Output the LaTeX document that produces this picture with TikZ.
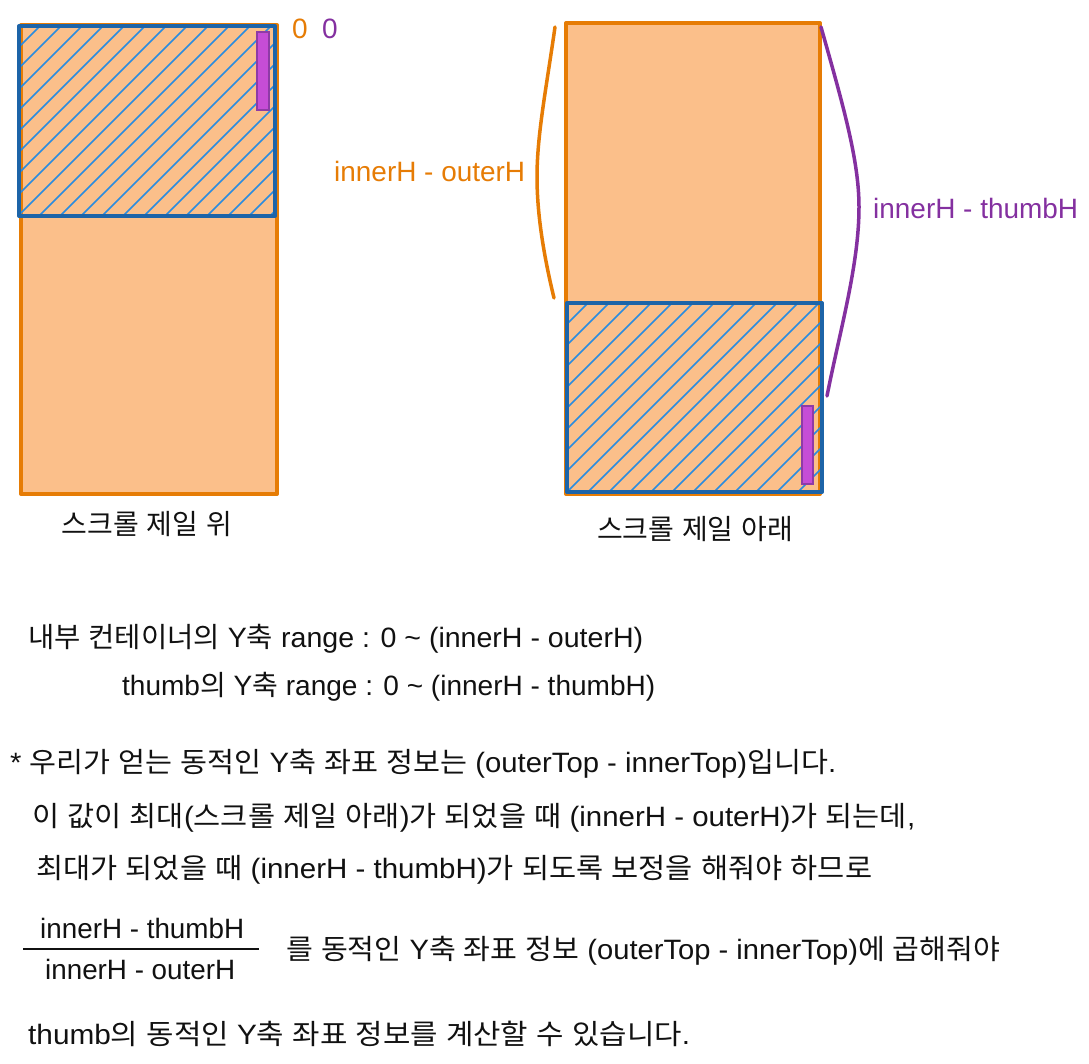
\documentclass[tikz,border=0pt]{standalone}
\usepackage{fontspec}
\usepackage{graphicx}
\setmainfont{Liberation Sans}
\newfontfamily\krf{Noto Sans CJK KR}
\newcommand\K[1]{{\krf #1}}
\newcommand\fitw[2]{\resizebox{#1pt}{\height}{#2}}
\definecolor{oline}{HTML}{E67C05}
\definecolor{ofill}{HTML}{FBBF8A}
\definecolor{bline}{HTML}{1D64A8}
\definecolor{hline}{HTML}{2A8CE0}
\definecolor{tfill}{HTML}{C64DD6}
\definecolor{tline}{HTML}{8E3BA6}
\definecolor{pline}{HTML}{8430A0}
\definecolor{ink}{HTML}{111111}
\tikzset{
  txt/.style={font=\fontsize{28}{34}\selectfont, inner sep=0pt, text height=20pt, text depth=0pt, text=ink},
  outerbox/.style={draw=oline, fill=ofill, line width=4pt, line join=round},
  innerbox/.style={draw=bline, line width=4pt, line join=round},
  hatch/.style={draw=hline, line width=1.6pt},
  thumbbox/.style={draw=tline, fill=tfill, line width=1.5pt},
  bracecurve/.style={line width=3.5pt, line cap=round}
}
\begin{document}
\begin{tikzpicture}[x=1pt,y=-1pt]
\useasboundingbox (0,0) rectangle (1089,1063);
% ---------- left: top position ----------
\draw[outerbox] (21,25) rectangle (277,494);
\begin{scope}
  \clip (19,26) rectangle (275,216);
  \foreach \c in {45,66,...,520} \draw[hatch] (\c,0) -- ++(-700,700);
\end{scope}
\draw[innerbox] (19,26) rectangle (275,216);
\draw[thumbbox] (257,32) rectangle (269,110);
\node[txt, text=oline] (zo) at (300,28) {0};
\node[txt, text=pline] (zp) at (330,28) {0};
\node[txt] (captop) at (147,524) {\K{스크롤}\ \K{제일}\ \K{위}};
% ---------- right: bottom position ----------
\draw[outerbox] (566,23) rectangle (820,494);
\begin{scope}
  \clip (567,303) rectangle (822,492);
  \foreach \c in {870,891,...,1330} \draw[hatch] (\c,0) -- ++(-700,700);
\end{scope}
\draw[innerbox] (567,303) rectangle (822,492);
\draw[thumbbox] (802,406) rectangle (813,484);
\node[txt] (capbot) at (695,529) {\K{스크롤}\ \K{제일}\ \K{아래}};
% braces
\coordinate (oa) at (555,27);
\coordinate (om) at (537,177);
\coordinate (ob) at (554,298);
\draw[bracecurve, oline] (oa) .. controls (546,90) and (537,135) .. (om) .. controls (537,220) and (546,265) .. (ob);
\coordinate (pa) at (821,27);
\coordinate (pm) at (859,207);
\coordinate (pb) at (827,396);
\draw[bracecurve, pline] (pa) .. controls (843,105) and (859,160) .. (pm) .. controls (859,265) and (840,330) .. (pb);
\node[txt, text=oline, anchor=west] (lo) at (334,171) {\fitw{191}{innerH - outerH}};
\node[txt, text=pline, anchor=west] (lp) at (873,208) {\fitw{205}{innerH - thumbH}};
% ---------- explanation ----------
\node[txt, anchor=west] (t1) at (28,637) {\fitw{615}{\K{내부}\ \K{컨테이너의}\ Y\K{축} range : 0 \textasciitilde\ (innerH - outerH)}};
\node[txt, anchor=west] (t2) at (122,685) {\fitw{533}{thumb\K{의}\ Y\K{축} range : 0 \textasciitilde\ (innerH - thumbH)}};
\node[txt, anchor=west] (t3) at (10,762) {\fitw{826}{* \K{우리가}\ \K{얻는}\ \K{동적인}\ Y\K{축}\ \K{좌표}\ \K{정보는} (outerTop - innerTop)\K{입니다}.}};
\node[txt, anchor=west] (t4) at (32,816) {\fitw{883}{\K{이}\ \K{값이}\ \K{최대}(\K{스크롤}\ \K{제일}\ \K{아래})\K{가}\ \K{되었을}\ \K{때} (innerH - outerH)\K{가}\ \K{되는데},}};
\node[txt, anchor=west] (t5) at (36,868) {\fitw{836}{\K{최대가}\ \K{되었을}\ \K{때} (innerH - thumbH)\K{가}\ \K{되도록}\ \K{보정을}\ \K{해줘야}\ \K{하므로}}};
\node[txt, anchor=west] (num) at (40,928) {\fitw{204}{innerH - thumbH}};
\node[txt, anchor=west] (den) at (45,969) {\fitw{190}{innerH - outerH}};
\coordinate (fl) at (23,949);
\coordinate (fr) at (259,949);
\draw[ink, line width=1.6pt] (fl) -- (fr);
\node[txt, anchor=west] (t6) at (286,949) {\fitw{714}{\K{를}\ \K{동적인}\ Y\K{축}\ \K{좌표}\ \K{정보} (outerTop - innerTop)\K{에}\ \K{곱해줘야}}};
\node[txt, anchor=west] (t7) at (28,1034) {\fitw{662}{thumb\K{의}\ \K{동적인}\ Y\K{축}\ \K{좌표}\ \K{정보를}\ \K{계산할}\ \K{수}\ \K{있습니다}.}};
\end{tikzpicture}
\end{document}
